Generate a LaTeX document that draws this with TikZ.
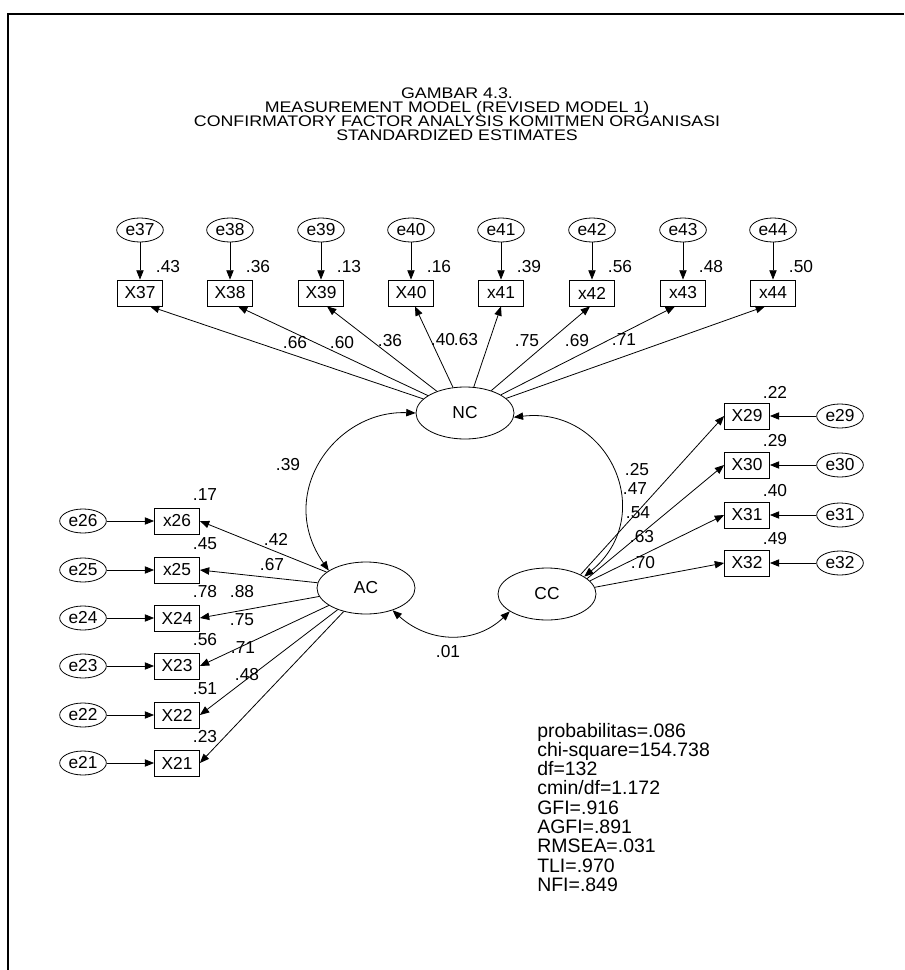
\documentclass[tikz,border=0pt]{standalone}
\usepackage{fontspec}
\setmainfont{Liberation Sans}
\usetikzlibrary{arrows.meta,calc,shapes.geometric}
\begin{document}
\begin{tikzpicture}[x=0.75pt,y=-0.75pt,
  errv/.style={draw,ellipse,minimum width=35pt,minimum height=18pt,inner sep=0pt,line width=0.6pt,font=\fontsize{13}{13}\selectfont},
  latv/.style={draw,ellipse,minimum width=73.5pt,minimum height=39pt,inner sep=0pt,line width=0.6pt,font=\fontsize{13}{13}\selectfont},
  obsv/.style={draw,rectangle,minimum width=33.75pt,minimum height=19.5pt,inner sep=0pt,line width=0.6pt,font=\fontsize{13}{13}\selectfont},
  lab/.style={inner sep=0pt,font=\fontsize{13}{13}\selectfont},
  ttl/.style={inner sep=0pt,anchor=base,font=\fontsize{11.5}{12}\selectfont},
  stat/.style={inner sep=0pt,anchor=base west,font=\fontsize{14.6}{14.6}\selectfont},
  arr/.style={-{Triangle[length=7pt,width=5.5pt]},line width=0.6pt},
  cov/.style={{Triangle[length=7pt,width=5.5pt]}-{Triangle[length=7pt,width=5.5pt]},line width=0.6pt}
]
\useasboundingbox (0,0) rectangle (904,970);
\draw[line width=2pt] (8,970) -- (8,14) -- (904,14);

% title
\node[ttl] (t1) at (457,99) {\scalebox{1.16}[1]{GAMBAR 4.3.}};
\node[ttl] (t2) at (457,112.7) {\scalebox{1.16}[1]{MEASUREMENT MODEL (REVISED MODEL 1)}};
\node[ttl] (t3) at (457,126.4) {\scalebox{1.16}[1]{CONFIRMATORY FACTOR ANALYSIS KOMITMEN ORGANISASI}};
\node[ttl] (t4) at (457,140.1) {\scalebox{1.16}[1]{STANDARDIZED ESTIMATES}};

% latent
\node[latv] (NC) at (465,413) {NC};
\node[latv] (AC) at (366,588) {AC};
\node[latv] (CC) at (547,594) {CC};

% top indicators
\foreach \n/\t/\x/\r/\dx in {37/X37/140/.43/10, 38/X38/230/.36/8, 39/X39/321/.13/6, 40/X40/411/.16/4, 41/x41/501/.39/0, 42/x42/592/.56/-2, 43/x43/683/.48/-8, 44/x44/773/.50/-8}{
  \node[errv] (e\n) at (\x,230) {e\n};
  \node[obsv] (o\n) at (\x,293) {\t};
  \node[lab] (r\n) at (\x+28,267) {\r};
  \draw[arr] (e\n) -- (o\n);
  \draw[arr] (NC) -- ($(o\n.south)+(\dx,0)$);
}

% left indicators
\foreach \n/\t/\y/\r in {26/x26/521/.17, 25/x25/570/.45, 24/X24/618/.78, 23/X23/666/.56, 22/X22/715/.51, 21/X21/763/.23}{
  \node[errv] (e\n) at (83,\y) {e\n};
  \node[obsv] (o\n) at (177,\y) {\t};
  \node[lab] (r\n) at (205,\y-26) {\r};
  \draw[arr] (e\n) -- (o\n);
  \draw[arr] (AC) -- (o\n.east);
}

% right indicators
\foreach \n/\t/\y/\r/\a in {29/X29/416/.22/30, 30/X30/465/.29/21, 31/X31/515/.40/17, 32/X32/563/.49/8}{
  \node[errv] (e\n) at (840,\y) {e\n};
  \node[obsv] (o\n) at (747,\y) {\t};
  \node[lab] (r\n) at (775,\y-24) {\r};
  \draw[arr] (e\n) -- (o\n);
  \draw[arr] (CC.\a) -- (o\n.west);
}

% loadings
\node[lab] at (295,343) {.66};
\node[lab] at (342,343) {.60};
\node[lab] at (390,341) {.36};
\node[lab] at (443,340) {.40};
\node[lab] at (466,340) {.63};
\node[lab] at (527,341) {.75};
\node[lab] at (577,341) {.69};
\node[lab] at (624,340) {.71};
\node[lab] at (276,539) {.42};
\node[lab] at (272,565) {.67};
\node[lab] at (242,592) {.88};
\node[lab] at (242,620) {.75};
\node[lab] at (243,648) {.71};
\node[lab] at (247,675) {.48};
\node[lab] at (635,489) {.47};
\node[lab] at (638,513) {.54};
\node[lab] at (642,537) {.63};
\node[lab] at (643,563) {.70};

% covariances
\draw[cov] (NC.west) .. controls (335,410) and (275,494) .. (AC.155);
\draw[cov] (NC.355) .. controls (608,406) and (659,515) .. (CC.25);
\draw[cov] (AC.-40) .. controls (430,644) and (476,644) .. (CC.205);
\node[lab] at (288,465) {.39};
\node[lab] at (637,470) {.25};
\node[lab] at (448,652) {.01};

% fit statistics
\node[stat] at (537,737) {probabilitas=.086};
\node[stat] at (537,756.3) {chi-square=154.738};
\node[stat] at (537,775.6) {df=132};
\node[stat] at (537,794.9) {cmin/df=1.172};
\node[stat] at (537,814.2) {GFI=.916};
\node[stat] at (537,833.5) {AGFI=.891};
\node[stat] at (537,852.8) {RMSEA=.031};
\node[stat] at (537,872.1) {TLI=.970};
\node[stat] at (537,891.4) {NFI=.849};
\end{tikzpicture}
\end{document}
